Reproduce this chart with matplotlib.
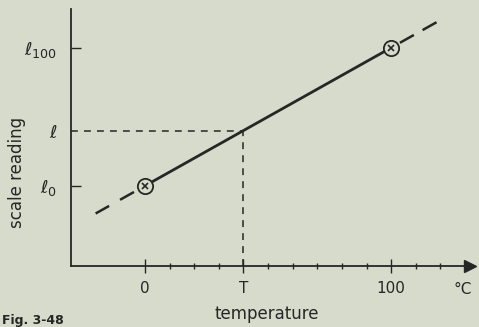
import numpy as np
import matplotlib.pyplot as plt

# data (scale reading: l0 -> 0, l100 -> 100)
temp_pts = [0, 100]
scale_pts = [0, 100]
T_value = 40
ext_low = -20
ext_high = 119
xticks = [0, 40, 100]
xticklabels = ["0", "T", "100"]
minor_x = [10, 20, 30, 50, 60, 70, 80, 90, 110, 120]
yticks = [0, 100]
yticklabels = [r"$\ell_{0}$", r"$\ell_{100}$"]

bg = "#d7dbcb"
ink = "#262626"

plt.rcParams["mathtext.fontset"] = "dejavusans"
fig = plt.figure(figsize=(4.79, 3.27), dpi=100, facecolor=bg)
ax = fig.add_axes([71/479, 61/327, 399/479, 257/327])
ax.set_facecolor(bg)
ax.set_xlim(-30, 132)
ax.set_ylim(-58, 128)

for s in ["top", "right"]:
    ax.spines[s].set_visible(False)
for s in ["left", "bottom"]:
    ax.spines[s].set_color(ink)
    ax.spines[s].set_linewidth(1.3)

# line through the fixed points, dashed outside them
slope = (scale_pts[1] - scale_pts[0]) / (temp_pts[1] - temp_pts[0])
line = lambda x: scale_pts[0] + slope * x
ax.plot([temp_pts[0], ext_low], [line(temp_pts[0]), line(ext_low)], color=ink, lw=1.8,
        linestyle=(6.4, (6.4, 5)))
ax.plot([temp_pts[1], ext_high], [line(temp_pts[1]), line(ext_high)], color=ink, lw=1.8,
        linestyle=(6.4, (6.4, 4)))
ax.plot(temp_pts, scale_pts, color=ink, lw=2)
ax.plot(temp_pts, scale_pts, "o", ms=11, mfc=bg, mec=ink, mew=1.3)
ax.plot(temp_pts, scale_pts, "x", ms=5, color=ink, mew=1.2)

# reading at T
l_T = line(T_value)
ax.plot([-30, T_value], [l_T, l_T], color=ink, lw=1.1, dashes=(4.5, 4))
ax.plot([T_value, T_value], [-58, l_T], color=ink, lw=1.1, dashes=(4.5, 4))

# arrow at end of x axis
ax.plot([132], [-58], marker=">", ms=8, color=ink, clip_on=False)

ax.set_xticks(xticks)
ax.set_xticklabels(xticklabels, fontsize=11, color=ink)
ax.set_xticks(minor_x, minor=True)
ax.tick_params(axis="x", which="major", direction="inout", length=10, width=1, pad=6, colors=ink)
ax.tick_params(axis="x", which="minor", direction="inout", length=4, width=1, colors=ink)

ax.set_yticks(yticks + [l_T])
ax.set_yticklabels(yticklabels + [r"$\ell$"], fontsize=13, color=ink)
ax.tick_params(axis="y", direction="in", length=7, width=1, pad=10, colors=ink)
ax.yaxis.get_major_ticks()[2].tick1line.set_visible(False)

fig.text(463/479, 1 - 290/327, "°C", fontsize=11, color=ink, ha="center", va="center")
fig.text(267/479, 1 - 314/327, "temperature", fontsize=12, color=ink, ha="center", va="center")
fig.text(17/479, 1 - 172/327, "scale reading", fontsize=12, color=ink, rotation=90,
         ha="center", va="center")
fig.text(0.004, 0.01, "Fig. 3-48", fontsize=9, fontweight="bold", color=ink)

fig.savefig("out.png", dpi=100, facecolor=bg)
